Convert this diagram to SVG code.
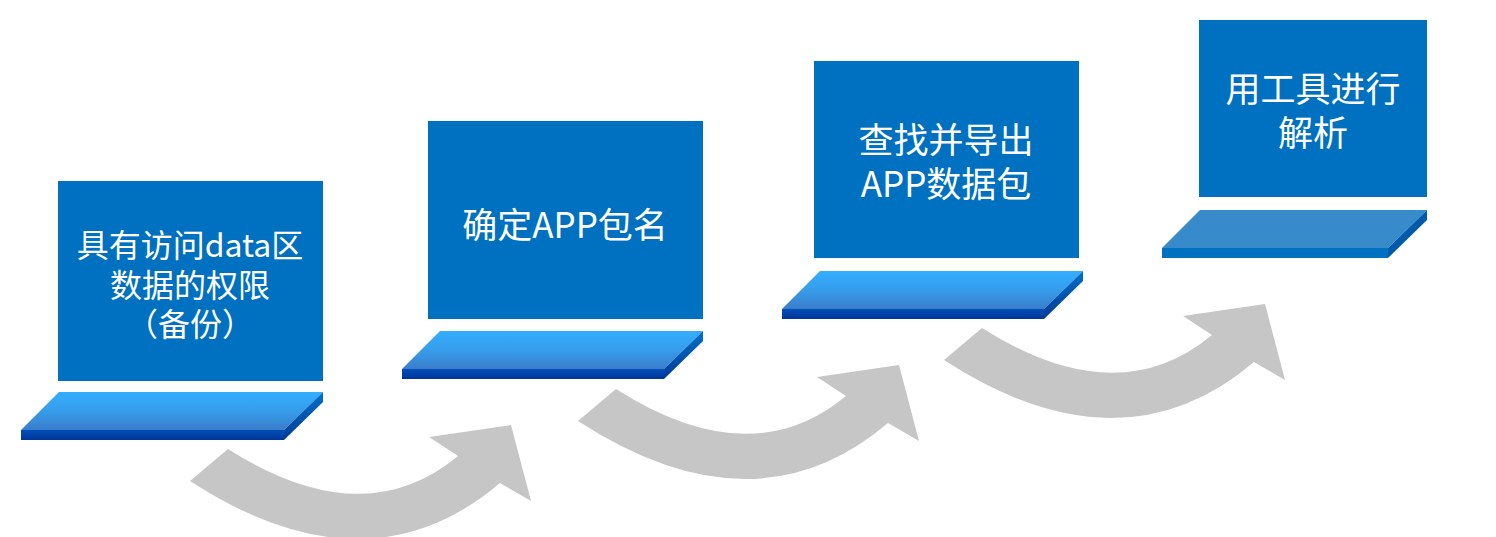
<svg xmlns="http://www.w3.org/2000/svg" width="1496" height="537" viewBox="0 0 1496 537">
<style>
.box{fill:#0070C0}
.txt{fill:#FFFFFF;font-family:"Noto Sans CJK SC","Microsoft YaHei",sans-serif;text-anchor:middle}
.arrow{fill:#C6C6C6}
.top{fill:url(#gTop)}
.front{fill:url(#gFront)}
.side{fill:url(#gSide)}
</style>
<defs>
<linearGradient id="gTop" x1="0" y1="0" x2="0" y2="1">
<stop offset="0" stop-color="#33AEFF"/>
<stop offset="0.5" stop-color="#369DEB"/>
<stop offset="1" stop-color="#3A7DCA"/>
</linearGradient>
<linearGradient id="gFront" x1="0" y1="0" x2="0" y2="1">
<stop offset="0" stop-color="#004FB8"/>
<stop offset="1" stop-color="#003598"/>
</linearGradient>
<linearGradient id="gSide" x1="0" y1="0" x2="0" y2="1">
<stop offset="0" stop-color="#0070C8"/>
<stop offset="1" stop-color="#003A98"/>
</linearGradient>
<path id="arr" d="M944,360 L982,328 Q1117,414 1212,335 L1183,316 L1265,304 L1285,380 L1254,362 Q1121,475 944,360 Z"/>
</defs>
<g id="connectors">
<use href="#arr" class="arrow" transform="translate(-754,121)"/>
<use href="#arr" class="arrow" transform="translate(-366,61)"/>
<use href="#arr" class="arrow"/>
</g>
<g id="node1">
<polygon class="top" points="59,392 323,392 284,430 21,430"/>
<polygon class="front" points="21,430 284,430 284,440 21,440"/>
<polygon class="side" points="284,430 323,392 323,402 284,440"/>
<rect class="box" x="58" y="181" width="265" height="200"/>
<text class="txt" font-size="32"><tspan x="190" y="257">具有访问data区</tspan><tspan x="190" y="297">数据的权限</tspan><tspan x="190" y="336">（备份）</tspan></text>
</g>
<g id="node2">
<polygon class="top" points="440,331 703,331 664,369 402,369"/>
<polygon class="front" points="402,369 664,369 664,379 402,379"/>
<polygon class="side" points="664,369 703,331 703,341 664,379"/>
<rect class="box" x="428" y="121" width="275" height="198"/>
<text class="txt" font-size="35" x="565" y="238">确定APP包名</text>
</g>
<g id="node3">
<polygon class="top" points="820,271 1083,271 1044,309 782,309"/>
<polygon class="front" points="782,309 1044,309 1044,319 782,319"/>
<polygon class="side" points="1044,309 1083,271 1083,281 1044,319"/>
<rect class="box" x="814" y="61" width="265" height="197"/>
<text class="txt" font-size="35"><tspan x="946" y="153">查找并导出</tspan><tspan x="946" y="197">APP数据包</tspan></text>
</g>
<g id="node4">
<polygon points="1200,210 1427,210 1388,248 1162,248" fill="#388BCB"/>
<polygon points="1162,248 1388,248 1388,258 1162,258" fill="#0070C0"/>
<polygon points="1388,248 1427,210 1427,220 1388,258" fill="#005AAA"/>
<rect class="box" x="1199" y="20" width="228" height="177"/>
<text class="txt" font-size="35"><tspan x="1313" y="102">用工具进行</tspan><tspan x="1313" y="146">解析</tspan></text>
</g>
</svg>
